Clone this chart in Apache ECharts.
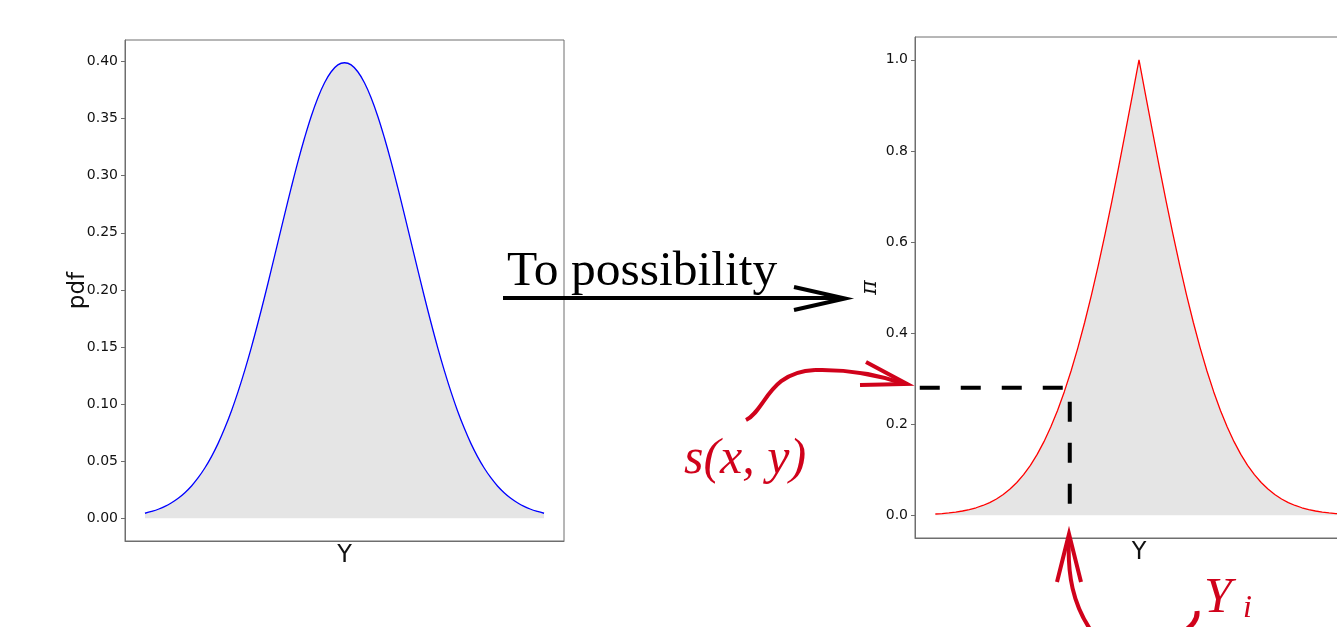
<!DOCTYPE html>
<html>
<head>
<meta charset="utf-8">
<script src="https://cdn.jsdelivr.net/npm/echarts@6/dist/echarts.min.js"></script>
<style>
html,body{margin:0;padding:0;background:#fff;}
#chart{width:1337px;height:627px;}
</style>
</head>
<body>
<div id="chart"></div>
<script>
// ---- data ----
const yValues = [-3.0,-2.9,-2.8,-2.7,-2.6,-2.5,-2.4,-2.3,-2.2,-2.1,-2.0,-1.9,-1.8,-1.7,-1.6,-1.5,-1.4,-1.3,-1.2,-1.1,-1.0,-0.9,-0.8,-0.7,-0.6,-0.5,-0.4,-0.3,-0.2,-0.1,0.0,
  0.1,0.2,0.3,0.4,0.5,0.6,0.7,0.8,0.9,1.0,1.1,1.2,1.3,1.4,1.5,1.6,1.7,1.8,1.9,2.0,2.1,2.2,2.3,2.4,2.5,2.6,2.7,2.8,2.9,3.0];
const pdfValues = [0.0044,0.0060,0.0079,0.0104,0.0136,0.0175,0.0224,0.0283,0.0355,0.0440,0.0540,0.0656,0.0790,0.0940,0.1109,0.1295,0.1497,0.1714,0.1942,0.2179,0.2420,0.2661,0.2897,0.3123,0.3332,0.3521,0.3683,0.3814,0.3910,0.3970,0.3989,
  0.3970,0.3910,0.3814,0.3683,0.3521,0.3332,0.3123,0.2897,0.2661,0.2420,0.2179,0.1942,0.1714,0.1497,0.1295,0.1109,0.0940,0.0790,0.0656,0.0540,0.0440,0.0355,0.0283,0.0224,0.0175,0.0136,0.0104,0.0079,0.0060,0.0044];
const possValues = [0.0027,0.0037,0.0051,0.0069,0.0093,0.0124,0.0164,0.0214,0.0278,0.0357,0.0455,0.0574,0.0719,0.0891,0.1096,0.1336,0.1615,0.1936,0.2301,0.2713,0.3173,0.3681,0.4237,0.4839,0.5485,0.6171,0.6892,0.7642,0.8415,0.9203,1.0000,
  0.9203,0.8415,0.7642,0.6892,0.6171,0.5485,0.4839,0.4237,0.3681,0.3173,0.2713,0.2301,0.1936,0.1615,0.1336,0.1096,0.0891,0.0719,0.0574,0.0455,0.0357,0.0278,0.0214,0.0164,0.0124,0.0093,0.0069,0.0051,0.0037,0.0027];
const pdfTicks = [0.00,0.05,0.10,0.15,0.20,0.25,0.30,0.35,0.40];
const possTicks = [0.0,0.2,0.4,0.6,0.8,1.0];
const sample = { y: -1.02, s: 0.28 };   // Y_i and s(x,y)
const dashStartY = -3.23;
const dashEndPi = -0.013;

const RED = '#d0021b';
const TICKFONT = 'DejaVu Sans';

function yAxisCfg(gridIndex, min, max, ticks, digits, name, nameGap, nameFont) {
  return {
    type: 'value', gridIndex, min, max,
    name, nameLocation: 'middle', nameGap, nameRotate: 90, nameMoveOverlap: false,
    nameTextStyle: nameFont,
    splitLine: {show: false},
    axisLine: {show: true, onZero: false, lineStyle: {color: '#6e6e6e', width: 1}},
    axisTick: {show: true, length: 4, customValues: ticks, lineStyle: {color: '#6e6e6e'}},
    axisLabel: {customValues: ticks, formatter: v => v.toFixed(digits), fontFamily: TICKFONT, fontSize: 14, color: '#111', margin: 7, padding: [5, 0, 0, 0]}
  };
}
function xAxisCfg(gridIndex, nameGap) {
  return {
    type: 'value', gridIndex, min: -3.3, max: 3.3,
    name: 'Y', nameLocation: 'middle', nameGap, nameMoveOverlap: false,
    nameTextStyle: {fontFamily: TICKFONT, fontSize: 24, color: '#111'},
    splitLine: {show: false},
    axisLine: {show: true, onZero: false, lineStyle: {color: '#6e6e6e', width: 1}},
    axisTick: {show: false}, axisLabel: {show: false}
  };
}
function curve(x1, y1, cx1, cy1, cx2, cy2, x2, y2, w) {
  return {type: 'bezierCurve', shape: {x1, y1, cpx1: cx1, cpy1: cy1, cpx2: cx2, cpy2: cy2, x2, y2},
          style: {stroke: RED, lineWidth: w || 4, fill: null}, z: 10};
}
function label(text, x, y, font, fill) {
  return {type: 'text', x, y, style: {text, font, fill, verticalAlign: 'top', align: 'left'}, z: 10};
}

const chart = echarts.init(document.getElementById('chart'), null, {renderer: 'canvas'});
const option = {
  animation: false,
  backgroundColor: '#fff',
  grid: [
    {left: 125, top: 40, width: 439, height: 501, show: true, borderColor: '#6e6e6e', borderWidth: 1, backgroundColor: 'transparent', outerBoundsMode: 'none', containLabel: false},
    {left: 915, top: 37, width: 448, height: 501, show: true, borderColor: '#6e6e6e', borderWidth: 1, backgroundColor: 'transparent', outerBoundsMode: 'none', containLabel: false}
  ],
  xAxis: [xAxisCfg(0, 3), xAxisCfg(1, 3)],
  yAxis: [
    yAxisCfg(0, -0.0199, 0.4188, pdfTicks, 2, 'pdf', 35, {fontFamily: TICKFONT, fontSize: 23, color: '#111'}),
    yAxisCfg(1, -0.05, 1.05, possTicks, 1, 'π', 34, {fontFamily: 'DejaVu Serif', fontStyle: 'italic', fontSize: 22, color: '#111'})
  ],
  series: [
    {
      type: 'line', xAxisIndex: 0, yAxisIndex: 0, showSymbol: false, smooth: 0.4,
      data: yValues.map((y, i) => [y, pdfValues[i]]),
      lineStyle: {color: '#0000ff', width: 1.3},
      areaStyle: {color: '#e5e5e5', opacity: 1},
      z: 2
    },
    {
      type: 'line', xAxisIndex: 1, yAxisIndex: 1, showSymbol: false,
      data: yValues.map((y, i) => [y, possValues[i]]),
      lineStyle: {color: '#ff0000', width: 1.3, join: 'bevel'},
      areaStyle: {color: '#e5e5e5', opacity: 1},
      z: 2
    },
    {
      type: 'line', xAxisIndex: 1, yAxisIndex: 1, showSymbol: false, clip: false,
      data: [[dashStartY, sample.s], [sample.y, sample.s], [sample.y, dashEndPi]],
      lineStyle: {color: '#000', width: 4, type: [20, 21], cap: 'butt'},
      z: 5
    }
  ],
  graphic: [
    // "To possibility" arrow
    label('To possibility', 507, 247, '49.5px "Liberation Serif"', '#000'),
    {type: 'line', shape: {x1: 503, y1: 298, x2: 843, y2: 298}, style: {stroke: '#000', lineWidth: 4}, z: 10},
    {type: 'polyline', shape: {points: [[794, 287], [845, 298.5], [794, 310]]}, style: {stroke: '#000', lineWidth: 4, fill: null}, z: 10},
    // s(x,y) annotation
    label('s(x, y)', 684, 435, 'italic 50px "Liberation Serif"', RED),
    curve(746, 420, 766, 410, 768, 372, 815, 370),
    curve(815, 370, 850, 369, 882, 376, 905, 384),
    {type: 'polyline', shape: {points: [[866, 362], [907, 384], [860, 385]]}, style: {stroke: RED, lineWidth: 4, fill: null}, z: 10},
    // Y_i annotation
    curve(1069, 536, 1067, 575, 1073, 605, 1092, 632),
    {type: 'polyline', shape: {points: [[1057, 582], [1069, 534], [1081, 582]]}, style: {stroke: RED, lineWidth: 4, fill: null}, z: 10},
    curve(1182, 633, 1192, 626, 1198, 620, 1197, 611, 5),
    label('Y', 1204, 574, 'italic 50px "Liberation Serif"', RED),
    label('i', 1243, 593, 'italic 32px "Liberation Serif"', RED)
  ]
};
chart.setOption(option);
</script>
</body>
</html>
